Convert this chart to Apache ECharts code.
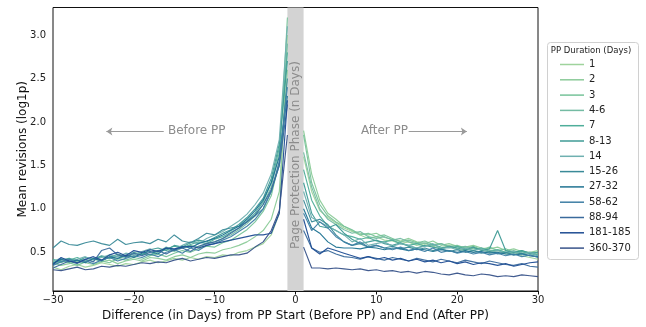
<!DOCTYPE html>
<html>
<head>
<meta charset="utf-8">
<script src="https://cdn.jsdelivr.net/npm/echarts@6/dist/echarts.min.js"></script>
<style>
  html, body { margin: 0; padding: 0; background: #fff; }
  #chart { width: 646px; height: 327px; }
</style>
</head>
<body>
<div id="chart"></div>
<script>
// legend groups (PP duration in days)
var groups = ['1', '2', '3', '4-6', '7', '8-13', '14', '15-26', '27-32', '58-62', '88-94', '181-185', '360-370'];
var colors = ['#9fd39c', '#8ccb99', '#77c39a', '#74bba3', '#4fae9a', '#3f9b96', '#6fb0b0',
              '#3a8a98', '#1f7392', '#3f7fa5', '#3a6a9c', '#1f4d93', '#38538a'];

// days before PP start (-30..-1) and after PP end (1..30)
var daysBefore = [-30, -29, -28, -27, -26, -25, -24, -23, -22, -21, -20, -19, -18, -17, -16,
                  -15, -14, -13, -12, -11, -10, -9, -8, -7, -6, -5, -4, -3, -2, -1];
var daysAfter = [1, 2, 3, 4, 5, 6, 7, 8, 9, 10, 11, 12, 13, 14, 15,
                 16, 17, 18, 19, 20, 21, 22, 23, 24, 25, 26, 27, 28, 29, 30];

// mean revisions (log1p), before PP
var before1 = [0.33, 0.30, 0.34, 0.36, 0.33, 0.35, 0.38, 0.36, 0.34, 0.37, 0.36, 0.39, 0.41, 0.38, 0.40,
               0.43, 0.41, 0.44, 0.42, 0.45, 0.44, 0.47, 0.46, 0.50, 0.52, 0.56, 0.60, 0.70, 0.95, 3.00];
var before2 = [0.38, 0.35, 0.37, 0.40, 0.38, 0.36, 0.39, 0.41, 0.37, 0.40, 0.42, 0.40, 0.44, 0.43, 0.41,
               0.45, 0.47, 0.44, 0.48, 0.50, 0.49, 0.53, 0.55, 0.58, 0.62, 0.68, 0.75, 0.88, 1.20, 2.60];
var before3 = [0.36, 0.40, 0.38, 0.35, 0.39, 0.42, 0.40, 0.38, 0.43, 0.41, 0.44, 0.42, 0.46, 0.48, 0.45,
               0.49, 0.52, 0.50, 0.54, 0.57, 0.56, 0.61, 0.64, 0.70, 0.76, 0.85, 0.97, 1.15, 1.55, 3.20];
var before4 = [0.40, 0.38, 0.42, 0.41, 0.39, 0.43, 0.41, 0.44, 0.42, 0.46, 0.45, 0.48, 0.47, 0.50, 0.53,
               0.51, 0.55, 0.58, 0.56, 0.60, 0.62, 0.66, 0.70, 0.76, 0.83, 0.92, 1.05, 1.25, 1.65, 2.90];
var before5 = [0.42, 0.39, 0.41, 0.44, 0.40, 0.42, 0.45, 0.43, 0.46, 0.44, 0.48, 0.50, 0.47, 0.52, 0.54,
               0.57, 0.55, 0.59, 0.62, 0.60, 0.65, 0.68, 0.73, 0.78, 0.86, 0.95, 1.08, 1.30, 1.70, 2.80];
var before6 = [0.38, 0.41, 0.43, 0.40, 0.44, 0.42, 0.46, 0.44, 0.48, 0.45, 0.50, 0.47, 0.53, 0.55, 0.52,
               0.58, 0.56, 0.61, 0.64, 0.62, 0.67, 0.72, 0.76, 0.82, 0.90, 1.00, 1.12, 1.35, 1.75, 2.70];
var before7 = [0.40, 0.43, 0.40, 0.42, 0.45, 0.41, 0.44, 0.47, 0.45, 0.49, 0.47, 0.51, 0.54, 0.50, 0.56,
               0.53, 0.58, 0.62, 0.60, 0.66, 0.70, 0.74, 0.80, 0.86, 0.94, 1.05, 1.18, 1.40, 1.80, 3.10];
var before8 = [0.55, 0.63, 0.59, 0.58, 0.61, 0.63, 0.60, 0.58, 0.65, 0.59, 0.61, 0.62, 0.60, 0.65, 0.62,
               0.70, 0.63, 0.61, 0.66, 0.72, 0.70, 0.76, 0.78, 0.80, 0.85, 0.92, 1.00, 1.20, 1.50, 2.50];
var before9 = [0.37, 0.42, 0.39, 0.41, 0.38, 0.43, 0.40, 0.45, 0.43, 0.47, 0.44, 0.49, 0.51, 0.48, 0.55,
               0.52, 0.57, 0.55, 0.60, 0.63, 0.66, 0.70, 0.75, 0.80, 0.88, 0.98, 1.10, 1.30, 1.60, 2.30];
var before10 = [0.35, 0.39, 0.42, 0.38, 0.40, 0.37, 0.41, 0.44, 0.40, 0.43, 0.46, 0.44, 0.48, 0.45, 0.50,
                0.53, 0.49, 0.55, 0.52, 0.58, 0.60, 0.64, 0.68, 0.74, 0.80, 0.88, 1.00, 1.20, 1.55, 2.40];
var before11 = [0.32, 0.36, 0.40, 0.37, 0.42, 0.39, 0.52, 0.55, 0.47, 0.45, 0.49, 0.46, 0.50, 0.52, 0.48,
                0.53, 0.55, 0.51, 0.57, 0.60, 0.62, 0.66, 0.72, 0.78, 0.85, 0.93, 1.05, 1.22, 1.50, 2.20];
var before12 = [0.36, 0.44, 0.40, 0.38, 0.42, 0.45, 0.41, 0.47, 0.50, 0.46, 0.52, 0.50, 0.53, 0.51, 0.55,
                0.54, 0.56, 0.57, 0.55, 0.58, 0.60, 0.62, 0.64, 0.66, 0.68, 0.70, 0.70, 0.72, 0.95, 2.25];
var before13 = [0.30, 0.29, 0.31, 0.33, 0.30, 0.31, 0.34, 0.33, 0.35, 0.34, 0.36, 0.38, 0.37, 0.39, 0.38,
                0.41, 0.43, 0.40, 0.42, 0.44, 0.43, 0.45, 0.47, 0.47, 0.49, 0.56, 0.62, 0.75, 0.98, 1.85];

// mean revisions (log1p), after PP
var after1 = [1.60, 1.20, 0.98, 0.90, 0.84, 0.78, 0.74, 0.70, 0.66, 0.68, 0.64, 0.63, 0.60, 0.62, 0.58,
              0.60, 0.57, 0.55, 0.58, 0.54, 0.52, 0.55, 0.53, 0.50, 0.52, 0.48, 0.50, 0.46, 0.44, 0.42];
var after2 = [1.90, 1.40, 1.10, 0.95, 0.88, 0.80, 0.75, 0.72, 0.70, 0.72, 0.67, 0.65, 0.63, 0.66, 0.62,
              0.60, 0.63, 0.58, 0.60, 0.57, 0.56, 0.58, 0.55, 0.54, 0.56, 0.52, 0.54, 0.51, 0.50, 0.52];
var after3 = [1.85, 1.30, 1.05, 0.92, 0.85, 0.80, 0.76, 0.70, 0.72, 0.68, 0.70, 0.66, 0.62, 0.64, 0.61,
              0.63, 0.59, 0.60, 0.57, 0.58, 0.55, 0.57, 0.53, 0.56, 0.52, 0.54, 0.50, 0.52, 0.49, 0.48];
var after4 = [1.65, 1.25, 1.00, 0.88, 0.82, 0.76, 0.72, 0.74, 0.68, 0.66, 0.68, 0.64, 0.66, 0.62, 0.60,
              0.61, 0.58, 0.60, 0.56, 0.55, 0.57, 0.54, 0.55, 0.52, 0.53, 0.50, 0.52, 0.49, 0.50, 0.47];
var after5 = [1.45, 1.10, 0.92, 0.80, 0.75, 0.70, 0.68, 0.65, 0.67, 0.63, 0.62, 0.64, 0.60, 0.58, 0.60,
              0.57, 0.59, 0.56, 0.55, 0.57, 0.54, 0.52, 0.55, 0.51, 0.53, 0.50, 0.49, 0.51, 0.48, 0.47];
var after6 = [1.30, 0.95, 0.80, 0.78, 0.82, 0.72, 0.65, 0.60, 0.62, 0.64, 0.60, 0.58, 0.61, 0.57, 0.55,
              0.58, 0.56, 0.54, 0.57, 0.55, 0.53, 0.56, 0.52, 0.54, 0.75, 0.52, 0.50, 0.52, 0.49, 0.50];
var after7 = [1.20, 0.90, 0.85, 0.80, 0.75, 0.70, 0.62, 0.66, 0.58, 0.60, 0.62, 0.57, 0.60, 0.58, 0.55,
              0.57, 0.60, 0.54, 0.56, 0.53, 0.55, 0.52, 0.54, 0.50, 0.52, 0.49, 0.51, 0.48, 0.50, 0.46];
var after8 = [1.10, 0.85, 0.88, 0.82, 0.70, 0.62, 0.58, 0.60, 0.56, 0.58, 0.55, 0.57, 0.54, 0.56, 0.53,
              0.55, 0.52, 0.54, 0.51, 0.53, 0.50, 0.52, 0.49, 0.51, 0.48, 0.50, 0.47, 0.49, 0.46, 0.45];
var after9 = [1.00, 0.78, 0.72, 0.62, 0.56, 0.55, 0.55, 0.54, 0.56, 0.55, 0.53, 0.55, 0.54, 0.52, 0.54,
              0.53, 0.51, 0.53, 0.52, 0.50, 0.52, 0.50, 0.51, 0.49, 0.50, 0.48, 0.47, 0.48, 0.46, 0.45];
var after10 = [0.95, 0.75, 0.85, 0.78, 0.68, 0.62, 0.58, 0.62, 0.56, 0.58, 0.55, 0.53, 0.56, 0.52, 0.54,
               0.51, 0.55, 0.50, 0.52, 0.49, 0.51, 0.48, 0.50, 0.47, 0.49, 0.46, 0.48, 0.45, 0.47, 0.44];
var after11 = [0.75, 0.55, 0.50, 0.52, 0.48, 0.45, 0.44, 0.42, 0.45, 0.43, 0.41, 0.44, 0.42, 0.40, 0.43,
               0.41, 0.39, 0.42, 0.40, 0.38, 0.41, 0.39, 0.37, 0.40, 0.38, 0.36, 0.35, 0.37, 0.34, 0.33];
var after12 = [0.88, 0.55, 0.48, 0.55, 0.52, 0.49, 0.46, 0.43, 0.45, 0.42, 0.44, 0.41, 0.43, 0.40, 0.42,
               0.39, 0.41, 0.38, 0.40, 0.37, 0.39, 0.36, 0.38, 0.37, 0.35, 0.37, 0.34, 0.36, 0.38, 0.39];
var after13 = [0.56, 0.32, 0.32, 0.31, 0.32, 0.31, 0.30, 0.31, 0.29, 0.30, 0.28, 0.29, 0.27, 0.28, 0.26,
               0.28, 0.27, 0.25, 0.24, 0.26, 0.24, 0.23, 0.25, 0.24, 0.22, 0.23, 0.22, 0.24, 0.23, 0.22];

var beforeData = [before1, before2, before3, before4, before5, before6, before7,
                  before8, before9, before10, before11, before12, before13];
var afterData = [after1, after2, after3, after4, after5, after6, after7,
                 after8, after9, after10, after11, after12, after13];

var yTicks = [0.5, 1.0, 1.5, 2.0, 2.5, 3.0];

function pairs(xs, ys) {
    var out = [];
    for (var i = 0; i < xs.length; i++) out.push([xs[i], ys[i]]);
    return out;
}

function minusFmt(v) {
    return v < 0 ? '\u2212' + (-v) : String(v);
}

var series = [];
for (var g = 0; g < groups.length; g++) {
    var common = {
        name: groups[g],
        type: 'line',
        symbol: 'none',
        color: colors[g],
        lineStyle: { width: 1.15, color: colors[g], opacity: 0.95 },
        emphasis: { disabled: true },
        animation: false
    };
    series.push(Object.assign({ data: pairs(daysBefore, beforeData[g]) }, common));
    series.push(Object.assign({ data: pairs(daysAfter, afterData[g]) }, common));
}

// protection phase band + annotation arrows
series.unshift({
    name: 'band',
    type: 'line',
    data: [],
    silent: true,
    animation: false,
    markArea: {
        silent: true,
        itemStyle: { color: '#d3d3d3' },
        data: [[{ xAxis: -1 }, { xAxis: 1 }]]
    },
    markLine: {
        silent: true,
        animation: false,
        symbol: ['none', 'arrow'],
        symbolSize: 6,
        label: { show: false },
        lineStyle: { color: '#9a9a9a', width: 1.2, type: 'solid' },
        data: [
            [{ coord: [-16.3, 1.89] }, { coord: [-23.4, 1.89] }],
            [{ coord: [14.0, 1.89] }, { coord: [21.2, 1.89] }]
        ]
    }
});

var chart = echarts.init(document.getElementById('chart'), null, { renderer: 'canvas' });

chart.setOption({
    animation: false,
    backgroundColor: '#fff',
    textStyle: { fontFamily: 'DejaVu Sans' },
    grid: {
        left: 53, right: 108, top: 7.5, bottom: 36,
        show: true, borderColor: '#111', borderWidth: 1, backgroundColor: 'transparent'
    },
    xAxis: {
        type: 'value',
        min: -30, max: 30, interval: 10,
        name: 'Difference (in Days) from PP Start (Before PP) and End (After PP)',
        nameLocation: 'middle',
        nameGap: 19,
        nameMoveOverlap: false,
        nameTextStyle: { fontSize: 12, color: '#111' },
        axisLine: { lineStyle: { color: '#111' } },
        axisTick: { length: 3.5, lineStyle: { color: '#111' } },
        axisLabel: { fontSize: 10, color: '#222', margin: 4, formatter: minusFmt },
        splitLine: { show: false }
    },
    yAxis: {
        type: 'value',
        min: 0.055, max: 3.316,
        name: 'Mean revisions (log1p)',
        nameLocation: 'middle',
        nameGap: 24,
        nameMoveOverlap: false,
        nameTextStyle: { fontSize: 12, color: '#111' },
        axisLine: { show: true, lineStyle: { color: '#111' } },
        axisTick: { show: true, length: 3.5, customValues: yTicks, lineStyle: { color: '#111' } },
        axisLabel: {
            fontSize: 10, color: '#222', margin: 7, customValues: yTicks,
            formatter: function (v) { return v.toFixed(1); }
        },
        splitLine: { show: false }
    },
    legend: {
        data: groups,
        orient: 'vertical',
        left: 555,
        top: 54.5,
        icon: 'rect',
        itemWidth: 24,
        itemHeight: 1.5,
        itemGap: 5.3,
        selectedMode: false,
        textStyle: { fontSize: 10, color: '#222', lineHeight: 10, padding: [0, 0, 0, 0] }
    },
    graphic: [
        {
            type: 'rect',
            shape: { x: 547.5, y: 42.5, width: 91, height: 217, r: 3 },
            style: { fill: '#fff', stroke: '#d0d0d0', lineWidth: 1 },
            z: -1
        },
        {
            type: 'text',
            x: 591, y: 51,
            style: { text: 'PP Duration (Days)', fontSize: 8.5, fill: '#222', align: 'center', verticalAlign: 'middle', fontFamily: 'DejaVu Sans' }
        },
        {
            type: 'text',
            x: 296, y: 155,
            rotation: Math.PI / 2,
            style: { text: 'Page Protection Phase (n Days)', fontSize: 12, fill: '#8c8c8c', align: 'center', verticalAlign: 'middle', fontFamily: 'DejaVu Sans' },
            z: 100
        },
        {
            type: 'text',
            x: 168, y: 131,
            style: { text: 'Before PP', fontSize: 12, fill: '#8c8c8c', align: 'left', verticalAlign: 'middle', fontFamily: 'DejaVu Sans' }
        },
        {
            type: 'text',
            x: 408, y: 131,
            style: { text: 'After PP', fontSize: 12, fill: '#8c8c8c', align: 'right', verticalAlign: 'middle', fontFamily: 'DejaVu Sans' }
        }
    ],
    series: series
});
</script>
</body>
</html>
